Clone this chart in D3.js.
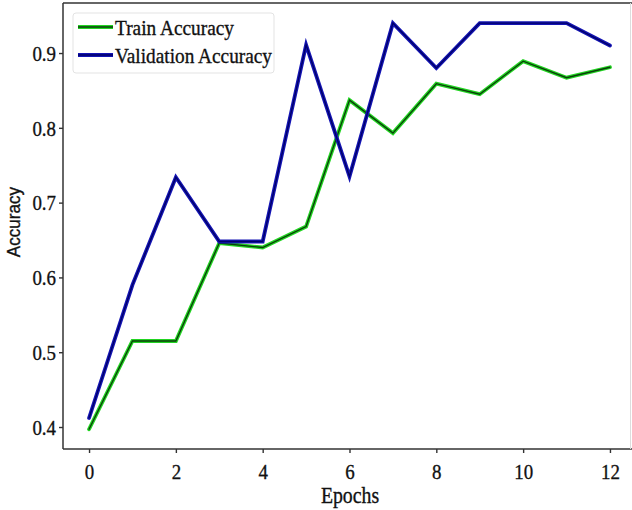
<!DOCTYPE html>
<html>
<head>
<meta charset="utf-8">
<script src="https://cdn.jsdelivr.net/npm/d3@7"></script>
<style>
  html, body { margin: 0; padding: 0; background: #fff; }
  svg { display: block; }
  svg text { stroke: #111; stroke-width: 0.35px; }
</style>
</head>
<body>
<svg id="chart" width="632" height="510"></svg>
<script>
const epochs = [0, 1, 2, 3, 4, 5, 6, 7, 8, 9, 10, 11, 12];
const trainAccuracy = [0.397, 0.515, 0.515, 0.646, 0.640, 0.668, 0.837, 0.793, 0.859, 0.845, 0.889, 0.867, 0.881];
const validationAccuracy = [0.412, 0.590, 0.734, 0.648, 0.648, 0.911, 0.735, 0.940, 0.880, 0.940, 0.940, 0.940, 0.910];
const xTicks = [0, 2, 4, 6, 8, 10, 12];
const yTicks = [0.4, 0.5, 0.6, 0.7, 0.8, 0.9];
const seriesNames = ["Train Accuracy", "Validation Accuracy"];

(function () {
const svg = d3.select("#chart");
const mLeft = 63, mRight = 636, mTop = 3, mBottom = 449;

const x = d3.scaleLinear().domain([-0.6, 12.6]).range([mLeft, mRight]);
const y = d3.scaleLinear().domain([0.3706, 0.9669]).range([mBottom, mTop]);

const serif = "'Liberation Serif', 'Times New Roman', serif";
const sans = "'Liberation Sans', Arial, sans-serif";
const sx = 0.86;

// axes
const xAxis = d3.axisBottom(x).tickValues(xTicks).tickFormat(d3.format("d")).tickSize(4).tickSizeOuter(0);
const yAxis = d3.axisLeft(y).tickValues(yTicks).tickFormat(d3.format(".1f")).tickSize(4).tickSizeOuter(0);

const gx = svg.append("g").attr("transform", `translate(0,${mBottom})`).call(xAxis);
const gy = svg.append("g").attr("transform", `translate(${mLeft},0)`).call(yAxis);
[gx, gy].forEach(g => {
  g.select(".domain").remove();
  g.selectAll(".tick line").attr("stroke", "#333").attr("stroke-width", 1.4);
  g.selectAll(".tick text").attr("fill", "#111").style("font-family", serif).style("font-size", "22px")
    .attr("transform", `scale(${sx},1)`);
});
gx.selectAll(".tick text").attr("dy", "0").attr("y", 30);
gy.selectAll(".tick text").attr("x", -7 / sx).attr("dy", "0.33em");

// spines
svg.append("line").attr("x1", mLeft).attr("x2", mLeft).attr("y1", mTop).attr("y2", mBottom).attr("stroke", "#333").attr("stroke-width", 1.5);
svg.append("line").attr("x1", mLeft).attr("x2", 632).attr("y1", mBottom).attr("y2", mBottom).attr("stroke", "#333").attr("stroke-width", 1.5);
svg.append("line").attr("x1", mLeft).attr("x2", 632).attr("y1", mTop).attr("y2", mTop).attr("stroke", "#333").attr("stroke-width", 1.5);
svg.append("line").attr("x1", 630.5).attr("x2", 630.5).attr("y1", mTop).attr("y2", mBottom).attr("stroke", "#ddd").attr("stroke-width", 1);

// axis labels
svg.append("text").attr("transform", `translate(350,503) scale(${sx},1)`).attr("text-anchor", "middle")
  .style("font-family", serif).style("font-size", "23px").attr("fill", "#111").text("Epochs");
svg.append("text").attr("transform", "translate(20,222) rotate(-90) scale(0.95,1)").attr("text-anchor", "middle")
  .style("font-family", sans).style("font-size", "18px").attr("fill", "#111").text("Accuracy");

// lines
const line = d3.line().x((d, i) => x(epochs[i])).y(d => y(d));
const styles = [
  { outer: "#22d422", inner: "#0b3d0b" },
  { outer: "#1414b4", inner: "#00006a" }
];
[trainAccuracy, validationAccuracy].forEach((vals, k) => {
  svg.append("path").datum(vals).attr("d", line).attr("fill", "none")
    .attr("stroke", styles[k].outer).attr("stroke-width", 3.8).attr("stroke-linejoin", "miter").attr("stroke-linecap", "round");
  svg.append("path").datum(vals).attr("d", line).attr("fill", "none")
    .attr("stroke", styles[k].inner).attr("stroke-width", 1.3).attr("stroke-linejoin", "miter").attr("stroke-linecap", "round");
});

// legend
const lg = svg.append("g");
lg.append("rect").attr("x", 73).attr("y", 13).attr("width", 201).attr("height", 60).attr("rx", 3)
  .attr("fill", "#fff").attr("fill-opacity", 0.85).attr("stroke", "#e3e3e3").attr("stroke-width", 1);
const legendY = [27, 55];
const textLens = [119, 157];
seriesNames.forEach((name, k) => {
  lg.append("line").attr("x1", 78).attr("x2", 113).attr("y1", legendY[k]).attr("y2", legendY[k])
    .attr("stroke", styles[k].outer).attr("stroke-width", 3.8);
  lg.append("line").attr("x1", 78).attr("x2", 113).attr("y1", legendY[k]).attr("y2", legendY[k])
    .attr("stroke", styles[k].inner).attr("stroke-width", 1.3);
  lg.append("text").attr("x", 115).attr("y", legendY[k] + 8)
    .attr("textLength", textLens[k]).attr("lengthAdjust", "spacingAndGlyphs")
    .style("font-family", serif).style("font-size", "22px").attr("fill", "#111").text(name);
});
})();
</script>
</body>
</html>
